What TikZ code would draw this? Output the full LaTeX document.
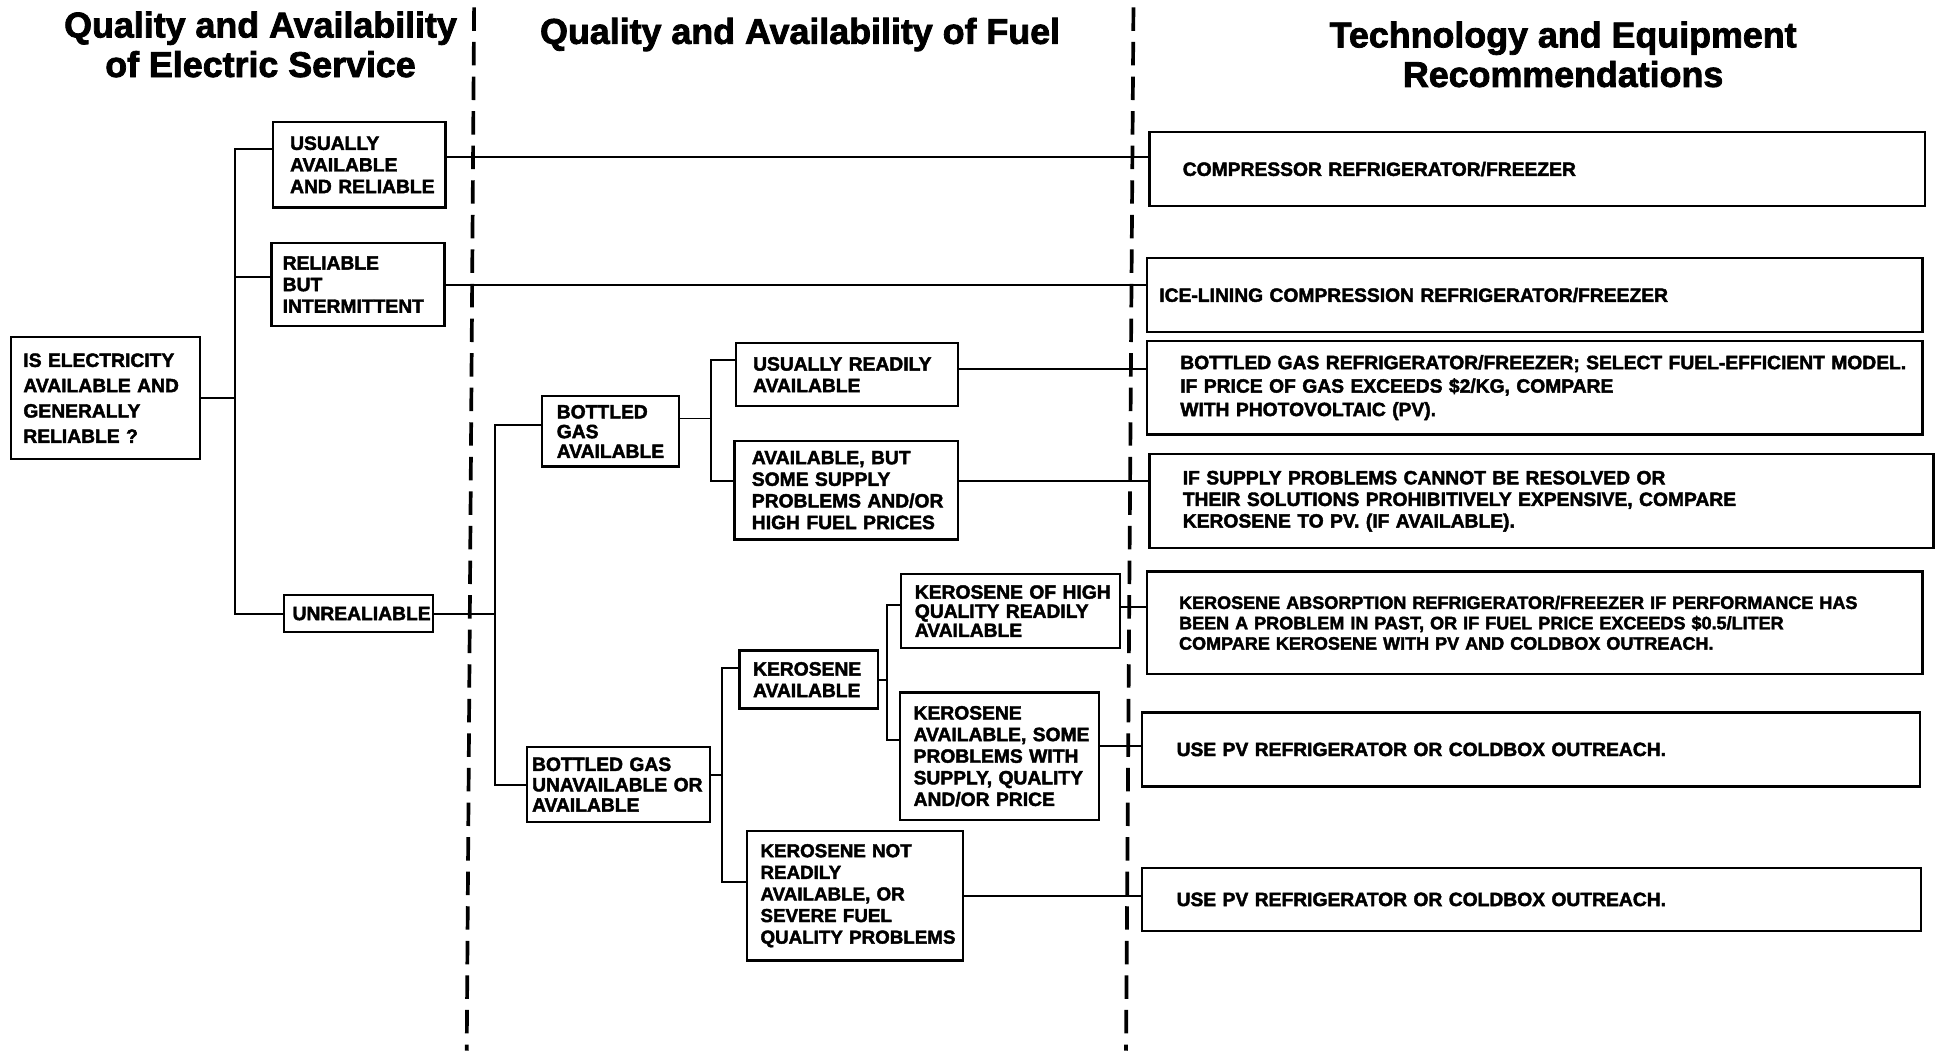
\documentclass[tikz,border=0pt]{standalone}
\usepackage{fontspec}
\setmainfont{Liberation Sans}[BoldFeatures={FakeBold=2.2}]

\newcommand\boxfont{\fontsize{15.6}{17.5}\selectfont\bfseries}
\newcommand\headfont{\fontsize{29}{32}\selectfont\bfseries}

\tikzset{
  box/.style n args={3}{draw, line width=1.9pt, anchor=north west, align=left,
    inner ysep=0pt, inner xsep=0pt, text width=#2pt, minimum height=#3pt, font=\boxfont,
    execute at begin node={\leftskip=#1pt\relax\hyphenpenalty=10000\relax}},
  wire/.style={line width=1.6pt},
  divider/.style={line width=3pt, dash pattern=on 19pt off 9pt},
  heading/.style={align=center, font=\headfont},
}

\begin{document}
\begin{tikzpicture}[x=1pt,y=-1pt]
    \useasboundingbox (0,0) rectangle (1568,851);

    % column headings and dividers
    \node[heading] (hElec) at (211,36) {Quality and Availability\\of Electric Service};
    \node[heading] (hFuel) at (648,28) {Quality and Availability of Fuel};
    \node[heading] (hTech) at (1266,44) {Technology and Equipment\\Recommendations};
    \draw[divider] (384,6) -- (378,851);
    \draw[divider] (918,6) -- (912,851);

    % electric service
    \node[box={10}{153}{99}, font=\fontsize{15.6}{20.5}\selectfont\bfseries] (Q) at (8,272)
        {IS ELECTRICITY\\AVAILABLE AND\\GENERALLY\\RELIABLE ?};
    \node[box={14}{140}{69}] (UA) at (220,98) {USUALLY\\AVAILABLE\\AND RELIABLE};
    \node[box={9}{140}{67}] (RBI) at (219,196) {RELIABLE\\BUT\\INTERMITTENT};
    \node[box={7}{121}{30}] (UNR) at (229,481) {UNREALIABLE};

    % fuel
    \node[box={12}{111}{57}, font=\fontsize{15.6}{16}\selectfont\bfseries] (BGA) at (438,320) {BOTTLED\\GAS\\AVAILABLE};
    \node[box={14}{180}{51}] (URA) at (595,277) {USUALLY READILY\\AVAILABLE};
    \node[box={14}{181}{80}] (ABS) at (594,356) {AVAILABLE, BUT\\SOME SUPPLY\\PROBLEMS AND/OR\\HIGH FUEL PRICES};
    \node[box={4}{148}{61}, font=\fontsize{15.6}{16.5}\selectfont\bfseries] (BGU) at (426,604) {BOTTLED GAS\\UNAVAILABLE OR\\AVAILABLE};
    \node[box={11}{112}{47}] (KA) at (598,526) {KEROSENE\\AVAILABLE};
    \node[box={11}{177}{60}, font=\fontsize{15.6}{15.5}\selectfont\bfseries] (KHQ) at (729,464) {KEROSENE OF HIGH\\QUALITY READILY\\AVAILABLE};
    \node[box={11}{161}{103}] (KSP) at (728,560) {KEROSENE\\AVAILABLE, SOME\\PROBLEMS WITH\\SUPPLY, QUALITY\\AND/OR PRICE};
    \node[box={11}{175}{105}, font=\fontsize{15.2}{17.5}\selectfont\bfseries] (KNR) at (604,672) {KEROSENE NOT\\READILY\\AVAILABLE, OR\\SEVERE FUEL\\QUALITY PROBLEMS};

    % recommendations
    \node[box={27}{628}{60}] (R1) at (930,106) {COMPRESSOR REFRIGERATOR/FREEZER};
    \node[box={10}{628}{60}] (R2) at (928,208) {ICE-LINING COMPRESSION REFRIGERATOR/FREEZER};
    \node[box={27}{628}{76}, font=\fontsize{15.6}{19}\selectfont\bfseries] (R3) at (928,275)
        {BOTTLED GAS REFRIGERATOR/FREEZER; SELECT FUEL-EFFICIENT MODEL.\\IF PRICE OF GAS EXCEEDS \$2/KG, COMPARE\\WITH PHOTOVOLTAIC (PV).};
    \node[box={27}{635}{76}] (R4) at (930,367)
        {IF SUPPLY PROBLEMS CANNOT BE RESOLVED OR\\THEIR SOLUTIONS PROHIBITIVELY EXPENSIVE, COMPARE\\KEROSENE TO PV. (IF AVAILABLE).};
    \node[box={26}{628}{83}, font=\fontsize{14.6}{16.5}\selectfont\bfseries] (R5) at (928,462)
        {KEROSENE ABSORPTION REFRIGERATOR/FREEZER IF PERFORMANCE HAS\\BEEN A PROBLEM IN PAST, OR IF FUEL PRICE EXCEEDS \$0.5/LITER\\COMPARE KEROSENE WITH PV AND COLDBOX OUTREACH.};
    \node[box={28}{630}{60}] (R6) at (924,576) {USE PV REFRIGERATOR OR COLDBOX OUTREACH.};
    \node[box={28}{631}{51}] (R7) at (924,702) {USE PV REFRIGERATOR OR COLDBOX OUTREACH.};

    % trunks of the tree
    \coordinate (e) at (190,0);
    \coordinate (f) at (401,0);
    \coordinate (g) at (576,0);
    \coordinate (h) at (585,0);
    \coordinate (k) at (718,0);

    % electric service branches
    \draw[wire] (Q.east) -- (Q.east -| e);
    \draw[wire] ([yshift=12.5pt]UA.west) -| (e |- UNR.west) -- (UNR.west);
    \draw[wire] ([yshift=6.5pt]RBI.west) -- ([yshift=6.5pt]RBI.west -| e);
    \draw[wire] ([yshift=6.5pt]UA.east) -- ([yshift=6.5pt]UA.east -| R1.west);
    \draw[wire] (RBI.east) -- (RBI.east -| R2.west);
    \draw[wire] (UNR.east) -- (UNR.east -| f);

    % bottled gas branches
    \draw[wire] ([yshift=5.5pt]BGA.west) -| (f |- BGU.west) -- (BGU.west);
    \draw[wire] ([yshift=10.5pt]BGA.east) -- ([yshift=10.5pt]BGA.east -| g);
    \draw[wire] ([yshift=11.5pt]URA.west) -| ([yshift=7pt]ABS.west -| g) -- ([yshift=7pt]ABS.west);
    \draw[wire] ([yshift=4.5pt]URA.east) -- ([yshift=4.5pt]URA.east -| R3.west);
    \draw[wire] ([yshift=7pt]ABS.east) -- ([yshift=7pt]ABS.east -| R4.west);

    % kerosene branches
    \draw[wire] ([yshift=7.5pt]BGU.east) -- ([yshift=7.5pt]BGU.east -| h);
    \draw[wire] ([yshift=9.5pt]KA.west) -| ([yshift=11.5pt]KNR.west -| h) -- ([yshift=11.5pt]KNR.west);
    \draw[wire] (KA.east) -- (KA.east -| k);
    \draw[wire] ([yshift=5pt]KHQ.west) -| ([yshift=13.5pt]KSP.west -| k) -- ([yshift=13.5pt]KSP.west);
    \draw[wire] ([yshift=3pt]KHQ.east) -- ([yshift=3pt]KHQ.east -| R5.west);
    \draw[wire] ([yshift=8.5pt]KSP.east) -- ([yshift=8.5pt]KSP.east -| R6.west);
    \draw[wire] (KNR.east) -- (KNR.east -| R7.west);
\end{tikzpicture}
\end{document}
